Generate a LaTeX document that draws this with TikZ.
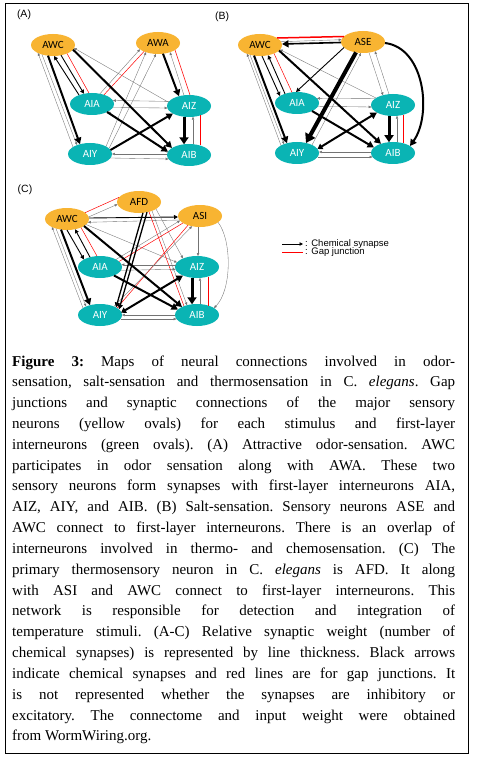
\documentclass[tikz,border=0pt]{standalone}
\usepackage{fontspec}
\usetikzlibrary{arrows.meta,shapes.geometric}
\newfontfamily\carlito{Carlito}
\newfontfamily\lsans{Liberation Sans}
\newfontfamily\lserif{Liberation Serif}
\definecolor{senscol}{RGB}{248,180,50}
\definecolor{intcol}{RGB}{10,180,180}
\newcommand\cnx[7][]{\draw[#1] ([shift={(#3,#4)}]#2.center) -- ([shift={(#6,#7)}]#5.center);}
\tikzset{
  nd/.style={ellipse, minimum width=44pt, minimum height=22pt, inner sep=0pt, font=\carlito\fontsize{11}{12}\selectfont},
  sens/.style={nd, fill=senscol, text=black},
  inter/.style={nd, fill=intcol, text=white},
  sw/.style={draw=black!55, line width=0.35pt, -{Triangle[length=2.8pt,width=2.4pt]}},
  sm/.style={draw=black, line width=0.9pt, -{Triangle[length=4pt,width=4pt]}},
  smk/.style={draw=black, line width=1.3pt, -{Triangle[length=5pt,width=5pt]}},
  sk/.style={draw=black, line width=2pt, -{Triangle[length=6.5pt,width=7pt]}},
  skb/.style={draw=black, line width=2pt, {Triangle[length=5pt,width=6pt]}-{Triangle[length=6.5pt,width=7pt]}},
  sv/.style={draw=black, line width=3pt, -{Triangle[length=7pt,width=9pt]}},
  svv/.style={draw=black, line width=4pt, -{Triangle[length=9pt,width=11pt]}},
  gj/.style={draw=red, line width=0.5pt},
  plab/.style={font=\lsans\fontsize{10.5}{11}\selectfont, inner sep=0pt},
  leg/.style={font=\lsans\fontsize{9.5}{10}\selectfont, inner sep=0pt, anchor=west}
}
\begin{document}
\begin{tikzpicture}[x=1pt,y=-1pt]
\useasboundingbox (0,0) rectangle (477,762);
\fill[white] (0,0) rectangle (477,762);
\draw[line width=0.9pt] (5.5,3.3) rectangle (468,753);

% ---------- Panel A ----------
\node[plab] (labA) at (24,15) {(A)};
\node[sens] (awcA) at (53,45) {AWC};
\node[sens] (awaA) at (158,43) {AWA};
\node[inter] (aiaA) at (92,104) {AIA};
\node[inter] (aizA) at (189,106) {AIZ};
\node[inter] (aiyA) at (90,154) {AIY};
\node[inter] (aibA) at (189,155) {AIB};

\cnx[sw]{aiyA}{-17}{-7}{awcA}{-15}{8}
\cnx[sw]{awcA}{-11}{9.5}{aiyA}{-13}{-9}
\cnx[sw]{aizA}{-21}{-4}{awcA}{21}{3}
\cnx[sw]{aizA}{-5}{-10.7}{awaA}{12}{9.2}
\cnx[sw]{aiaA}{8}{-10.3}{awaA}{-18}{6.3}
\cnx[sw]{aiyA}{16}{-7.5}{awaA}{-12}{9.2}
\cnx[sw]{aiyA}{19}{-5.5}{awaA}{-2}{11}
\cnx[sw]{aizA}{-20}{-4.6}{aiaA}{21}{-3.5}
\cnx[sw]{aiaA}{21}{3.5}{aizA}{-21.5}{2}
\cnx[sw]{aibA}{-22}{-1}{aiyA}{22}{0}
\cnx[sw]{aiyA}{20.5}{4}{aibA}{-20.5}{4}
\cnx[sw]{aibA}{4}{-10.8}{aizA}{4}{10.8}
\cnx[sw]{aibA}{-21.5}{-2.3}{aiaA}{16}{7.5}
\cnx[sm]{aiaA}{-13}{-9}{awcA}{1}{11}
\cnx[sm]{awcA}{8}{10.2}{aiaA}{-8}{-10.2}
\cnx[gj]{awcA}{14}{8.5}{aiaA}{-3}{-10.9}
\cnx[gj]{awaA}{17}{7}{aizA}{1}{-11}
\cnx[gj]{awaA}{-14}{8.5}{aiaA}{12}{-9.2}
\cnx[gj]{aizA}{11}{9.5}{aibA}{11}{-9.5}
\cnx[sk]{awcA}{-5}{10.7}{aiyA}{-10}{-9.8}
\cnx[sk]{awcA}{20}{4.6}{aibA}{-17}{-7}
\cnx[sk]{awaA}{5}{10.7}{aizA}{-10}{-9.8}
\cnx[sk]{aiaA}{15}{8}{aibA}{-21}{-3.3}
\cnx[sk]{aiyA}{20.5}{-4}{aizA}{-16}{7.5}
\cnx[sv]{aizA}{-5}{10.7}{aibA}{-5}{-10.7}

% ---------- Panel B ----------
\node[plab] (labB) at (222,17) {(B)};
\node[sens] (awcB) at (260,45) {AWC};
\node[sens] (aseB) at (363,42) {ASE};
\node[inter] (aiaB) at (297,103) {AIA};
\node[inter] (aizB) at (393,105) {AIZ};
\node[inter] (aiyB) at (297,153) {AIY};
\node[inter] (aibB) at (393,153) {AIB};

\cnx[sw]{aiyB}{-16}{-7.5}{awcB}{-13}{8.8}
\cnx[sw]{awcB}{-10}{9.8}{aiyB}{-13}{-8.8}
\cnx[sw]{aizB}{-17}{-7}{awcB}{20}{4.6}
\cnx[sw]{awcB}{21}{-3.3}{aseB}{-21.5}{-2.3}
\cnx[sw]{aiyB}{15}{-8}{aseB}{-2}{11}
\cnx[sw]{aseB}{6}{10.6}{aizB}{-10}{-9.8}
\cnx[sw]{aizB}{-4}{-10.8}{aseB}{12}{9.2}
\cnx[sw]{aizB}{-18}{-6.3}{aiaB}{20}{-4.6}
\cnx[sw]{aiaB}{21}{3.3}{aizB}{-21.5}{2}
\cnx[sw]{aibB}{-22}{-1}{aiyB}{22}{-1}
\cnx[sw]{aiyB}{20.5}{4}{aibB}{-20.5}{4}
\cnx[sw]{aibB}{4}{-10.8}{aizB}{4}{10.8}
\cnx[sm]{awcB}{2}{11}{aiaB}{-17}{-7}
\cnx[sm]{aiaB}{-12}{-9.2}{awcB}{8}{10.2}
\cnx[gj]{awcB}{14}{8.5}{aiaB}{-5}{-10.7}
\cnx[gj, line width=1.5pt]{awcB}{17}{-7}{aseB}{-19}{-5.5}
\cnx[gj]{aizB}{10}{9.8}{aibB}{10}{-9.8}
\cnx[sm]{aseB}{-19}{5.5}{aiaB}{-1}{-11}
\cnx[sk, line width=1.6pt]{aseB}{-22}{0.5}{awcB}{22}{-1}
\cnx[svv]{aseB}{-7}{10.4}{aiyB}{9}{-10}
\cnx[sk]{awcB}{-6}{10.6}{aiyB}{-10}{-9.8}
\cnx[sk]{awcB}{19}{5.5}{aibB}{-12}{-9.2}
\cnx[sk]{aiaB}{15}{8}{aibB}{-19}{-5.5}
\cnx[skb]{aiyB}{20.5}{-4}{aizB}{-16}{7.5}
\cnx[sv]{aizB}{-4}{10.8}{aibB}{-4}{-10.8}
\draw[sk] ([shift={(22,1)}]aseB.center) .. controls (425,48) and (432,115) .. ([shift={(17,-7)}]aibB.center);

% ---------- Panel C ----------
\node[plab] (labC) at (25,190) {(C)};
\node[sens] (afdC) at (139,202) {AFD};
\node[sens] (awcC) at (67,219) {AWC};
\node[sens] (asiC) at (200,216) {ASI};
\node[inter] (aiaC) at (100,267) {AIA};
\node[inter] (aizC) at (197,267) {AIZ};
\node[inter] (aiyC) at (100,315) {AIY};
\node[inter] (aibC) at (197,315) {AIB};

\cnx[sw]{aiyC}{-17}{-7}{awcC}{-15}{8}
\cnx[sw]{awcC}{-11}{9.5}{aiyC}{-14}{-8.5}
\cnx[sw]{awcC}{21.5}{-2}{afdC}{-21.5}{2.3}
\cnx[gj]{awcC}{18}{-6.3}{afdC}{-20}{-4.6}
\cnx[sm]{awcC}{22}{-1}{asiC}{-22}{1}
\cnx[sw]{asiC}{-20.5}{4}{awcC}{21}{3.3}
\cnx[sw]{awcC}{19}{5.5}{aizC}{-20}{-4.6}
\cnx[sw]{afdC}{17}{7}{aizC}{-14}{-8.5}
\cnx[sw]{afdC}{13}{8.9}{aibC}{-10}{-9.8}
\cnx[gj]{afdC}{10}{9.8}{aibC}{-13}{-8.8}
\cnx[gj]{asiC}{-17}{7}{aiaC}{19}{-5.5}
\cnx[sw]{aiaC}{16}{-7.5}{asiC}{-20}{4.6}
\cnx[gj]{asiC}{-12}{9.2}{aiyC}{17}{-7}
\cnx[sw]{aiyC}{14}{-8.5}{asiC}{-8}{10.2}
\cnx[sw]{asiC}{-2}{11}{aizC}{1}{-11}
\draw[sw] ([shift={(18,6.3)}]asiC.center) .. controls (232,240) and (232,290) .. ([shift={(17,-7)}]aibC.center);
\cnx[sw]{aizC}{-21.5}{-2.3}{aiaC}{21.5}{-2.3}
\cnx[sw]{aiaC}{21}{3.3}{aizC}{-21.5}{2.3}
\cnx[sw]{aibC}{-22}{0}{aiyC}{22}{0}
\cnx[sw]{aiyC}{20.5}{4}{aibC}{-20.5}{4}
\cnx[sw]{aibC}{3}{-10.9}{aizC}{3}{10.9}
\cnx[gj]{aizC}{11}{9.5}{aibC}{11}{-9.5}
\cnx[sm]{awcC}{0}{11}{aiaC}{-16}{-7.5}
\cnx[sm]{aiaC}{-10}{-9.8}{awcC}{8}{10.2}
\cnx[gj]{awcC}{14}{8.5}{aiaC}{-3}{-10.9}
\cnx[sk]{awcC}{-6}{10.6}{aiyC}{-10}{-9.8}
\cnx[sk]{awcC}{17}{7}{aibC}{-15}{-8}
\cnx[smk]{afdC}{4}{10.8}{aiyC}{16}{-7.5}
\cnx[smk]{afdC}{8}{10.2}{aiyC}{19}{-5.5}
\cnx[sk]{aiaC}{14}{8.5}{aibC}{-19}{-5.5}
\cnx[skb]{aiyC}{21}{-2.3}{aizC}{-14}{8.5}
\cnx[sv]{aizC}{-5}{10.7}{aibC}{-5}{-10.7}

% ---------- Legend ----------
\coordinate (l1a) at (282,244);
\coordinate (l1b) at (303,244);
\coordinate (l2a) at (282,252);
\coordinate (l2b) at (303,252);
\draw[draw=black, line width=0.8pt, -{Triangle[length=3.5pt,width=3.5pt]}] (l1a) -- (l1b);
\draw[gj, line width=0.6pt] (l2a) -- (l2b);
\node[leg] (lt1) at (305,244) {: Chemical synapse};
\node[leg] (lt2) at (305,252.5) {: Gap junction};

% ---------- Caption ----------
\node[anchor=base west, inner sep=0pt] (cap) at (12,366) {\parbox[t]{443pt}{%
\lserif\fontsize{15}{20.83}\selectfont\frenchspacing\parindent=0pt\hyphenpenalty=10000\tolerance=10000
\textbf{Figure 3:} Maps of neural connections involved in odor-\linebreak
sensation, salt-sensation and thermosensation in C. \textit{elegans}. Gap\linebreak
junctions and synaptic connections of the major sensory\linebreak
neurons (yellow ovals) for each stimulus and first-layer\linebreak
interneurons (green ovals). (A) Attractive odor-sensation. AWC\linebreak
participates in odor sensation along with AWA. These two\linebreak
sensory neurons form synapses with first-layer interneurons AIA,\linebreak
AIZ, AIY, and AIB. (B) Salt-sensation. Sensory neurons ASE and\linebreak
AWC connect to first-layer interneurons. There is an overlap of\linebreak
interneurons involved in thermo- and chemosensation. (C) The\linebreak
primary thermosensory neuron in C. \textit{elegans} is AFD. It along\linebreak
with ASI and AWC connect to first-layer interneurons. This\linebreak
network is responsible for detection and integration of\linebreak
temperature stimuli. (A-C) Relative synaptic weight (number of\linebreak
chemical synapses) is represented by line thickness. Black arrows\linebreak
indicate chemical synapses and red lines are for gap junctions. It\linebreak
is not represented whether the synapses are inhibitory or\linebreak
excitatory. The connectome and input weight were obtained\linebreak
from WormWiring.org.}};
\end{tikzpicture}
\end{document}
